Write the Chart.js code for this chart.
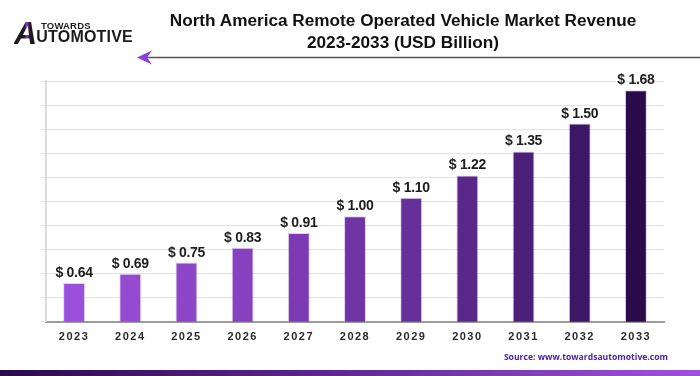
<!DOCTYPE html>
<html>
<head>
<meta charset="utf-8">
<script src="https://cdn.jsdelivr.net/npm/chart.js@4.4.0/dist/chart.umd.min.js"></script>
<style>
  body { margin: 0; background: #fff; }
  #quadro { position: relative; width: 700px; height: 376px; overflow: hidden; font-family: "Liberation Sans", Arial, sans-serif; }
  #grafico { position: absolute; left: 0; top: 0; }
  .titulo { position: absolute; left: 150px; width: 506px; top: 9px; text-align: center; font-weight: bold; font-size: 17.2px; line-height: 22px; color: #111; }
  .logo-topo { position: absolute; left: 41px; top: 20px; font-weight: bold; font-size: 9.5px; color: #1b1b1b; letter-spacing: 0.2px; }
  .logo-base { position: absolute; left: 14px; top: 15px; font-weight: bold; font-size: 16px; color: #1b1b1b; white-space: nowrap; letter-spacing: 0.2px; }
  .logo-base .letraA { font-size: 32px; font-style: italic; background: linear-gradient(90deg, #1b1b1b 45%, #8a3fd6 55%, #1b1b1b 70%); -webkit-background-clip: text; background-clip: text; color: transparent; vertical-align: -2px; margin-right: -1px; }
  .fonte { position: absolute; right: 32px; top: 351px; font-family: "Open Sans", sans-serif; font-weight: bold; font-size: 8.6px; color: #4a21b0; }
  .faixa { position: absolute; left: 0; top: 370px; width: 700px; height: 6px; background: linear-gradient(90deg, #2a0b48, #5a2590 45%, #9d52db); }
  #seta { position: absolute; left: 0; top: 0; }
</style>
</head>
<body>
<div id="quadro">
  <canvas id="grafico" width="700" height="376"></canvas>
  <svg id="seta" width="700" height="80">
    <line x1="146" y1="57.5" x2="700" y2="57.5" stroke="#555" stroke-width="1.5" />
    <polygon points="137,57.5 152,50.5 147,57.5 152,64.5" fill="#8a3fd6" />
  </svg>
  <div class="titulo">North America Remote Operated Vehicle Market Revenue<br>2023-2033 (USD Billion)</div>
  <div class="logo-topo">TOWARDS</div>
  <div class="logo-base"><span class="letraA">A</span>UTOMOTIVE</div>
  <div class="fonte">Source: www.towardsautomotive.com</div>
  <div class="faixa"></div>
</div>
<script>
var anos = ["2023", "2024", "2025", "2026", "2027", "2028", "2029", "2030", "2031", "2032", "2033"];
var receita = [0.64, 0.69, 0.75, 0.83, 0.91, 1.00, 1.10, 1.22, 1.35, 1.50, 1.68];

// eixo y nao comeca em zero no original
var eixoMin = 0.43;
var eixoMax = 1.73;

var coresBarras = ["#9b50dc", "#944bd1", "#8d46c8", "#8641be", "#7c3bb2", "#7035a5", "#653098", "#592889", "#4b2079", "#3c1766", "#2a0c4a"];

var rotulosValor = {
  id: "rotulosValor",
  afterDatasetsDraw: function (chart) {
    var ctx = chart.ctx;
    var meta = chart.getDatasetMeta(0);
    ctx.save();
    ctx.font = "bold 14px 'Liberation Sans'";
    ctx.letterSpacing = "-0.3px";
    ctx.fillStyle = "#1d1d1d";
    ctx.textAlign = "center";
    ctx.textBaseline = "alphabetic";
    for (var i = 0; i < meta.data.length; i++) {
      var barra = meta.data[i];
      ctx.fillText("$ " + receita[i].toFixed(2), barra.x, barra.y - 6);
    }
    ctx.restore();
  }
};

// anos do eixo x com letras espacadas
var espacoLetras = {
  id: "espacoLetras",
  beforeDraw: function (chart) {
    chart.ctx.letterSpacing = "1.5px";
  },
  beforeDatasetsDraw: function (chart) {
    chart.ctx.letterSpacing = "0px";
  }
};

var ctx = document.getElementById("grafico").getContext("2d");

var grafico = new Chart(ctx, {
  type: "bar",
  data: {
    labels: anos,
    datasets: [
      {
        data: receita,
        backgroundColor: coresBarras,
        borderColor: "rgba(190, 150, 230, 0.45)",
        borderWidth: 1,
        barPercentage: 0.39,
        categoryPercentage: 1,
      },
    ],
  },
  plugins: [rotulosValor, espacoLetras],
  options: {
    responsive: false,
    animation: false,
    devicePixelRatio: 1,
    layout: {
      padding: { top: 81, bottom: 23, left: 41, right: 36 },
    },
    plugins: {
      legend: { display: false },
      tooltip: { enabled: false },
    },
    scales: {
      x: {
        grid: { display: false, drawTicks: false },
        border: { display: true, color: "#9b9b9b", width: 2 },
        ticks: {
          color: "#2a2a2a",
          padding: 9,
          font: { family: "Liberation Sans", size: 11, weight: "bold" },
        },
      },
      y: {
        min: eixoMin,
        max: eixoMax,
        ticks: { display: false, count: 11 },
        grid: { color: "#e3e3e3", lineWidth: 1, drawTicks: true, tickLength: 5 },
        border: { display: true, color: "#dddddd", width: 2 },
      },
    },
  },
});
</script>
</body>
</html>
